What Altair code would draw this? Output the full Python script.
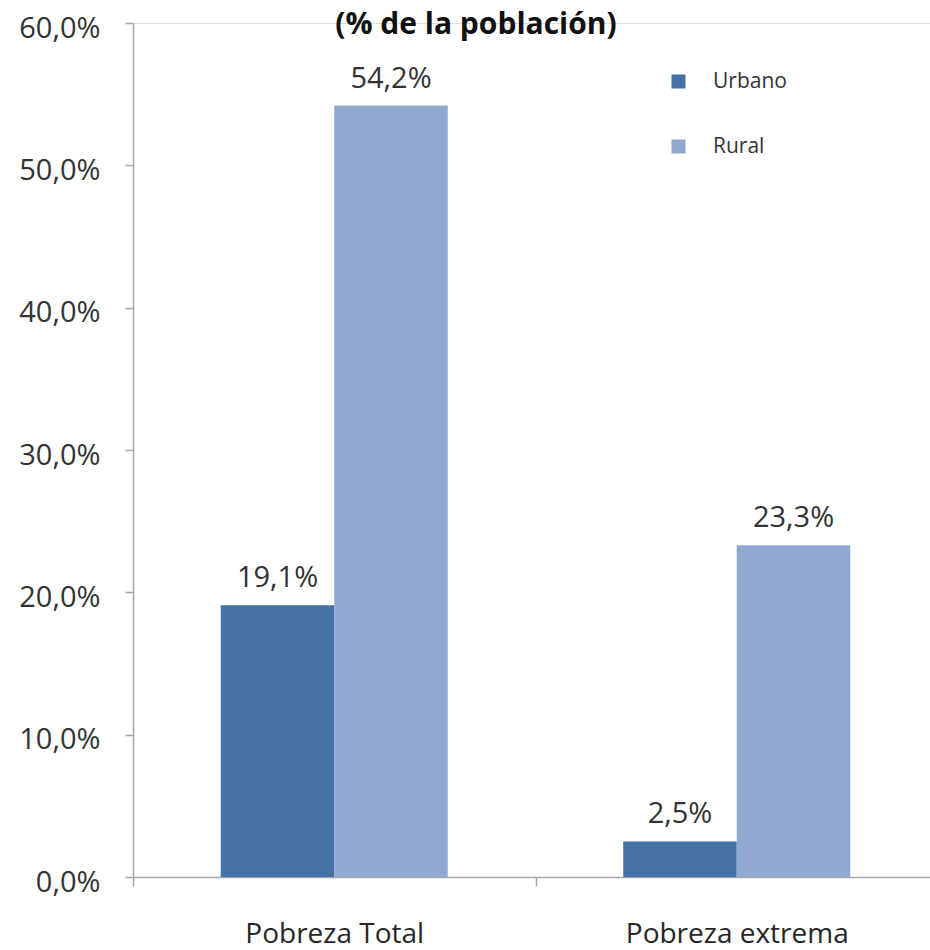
import altair as alt
import pandas as pd

title_text = "(% de la población)"
categories = ["Pobreza Total", "Pobreza extrema"]
zonas = ["Urbano", "Rural"]
urbano = [19.1, 2.5]
rural = [54.2, 23.3]
y_ticks = [0.0, 0.1, 0.2, 0.3, 0.4, 0.5, 0.6]
colors = ["#4472A7", "#91A9D0"]

rows = []
for i, c in enumerate(categories):
    rows.append({"cat": c, "zona": "Urbano", "val": urbano[i] / 100})
    rows.append({"cat": c, "zona": "Rural", "val": rural[i] / 100})
df = pd.DataFrame(rows)
df["label"] = df["val"].map(lambda v: f"{v * 100:.1f}%".replace(".", ","))

FONT = "Open Sans"
AXIS_GRAY = "#A6A6A6"

x_enc = alt.X(
    "cat:N",
    sort=categories,
    title=None,
    scale=alt.Scale(range=[0, 805], paddingInner=0, paddingOuter=0),
    axis=alt.Axis(
        labelAngle=0,
        tickBand="extent",
        domainColor=AXIS_GRAY,
        domainWidth=1.5,
        tickColor=AXIS_GRAY,
        tickWidth=1.5,
        tickSize=9,
        labelPadding=34,
        labelFont=FONT,
        labelFontSize=28,
        labelLimit=0,
        labelColor="#262626",
        grid=False,
    ),
)
xoff_enc = alt.XOffset(
    "zona:N", sort=zonas,
    scale=alt.Scale(domain=zonas, paddingInner=0, paddingOuter=0.773),
)
y_enc = alt.Y(
    "val:Q",
    title=None,
    scale=alt.Scale(domain=[0, 0.6], nice=False),
    axis=alt.Axis(
        values=y_ticks,
        labelExpr="replace(format(datum.value, '.1%'), '.', ',')",
        domainColor=AXIS_GRAY,
        domainWidth=1.5,
        tickColor=AXIS_GRAY,
        tickWidth=1.5,
        tickSize=8,
        labelPadding=25,
        labelFont=FONT,
        labelFontSize=29,
        labelColor="#333333",
        labelOffset=5,
        grid=False,
    ),
)

bars = alt.Chart(df).mark_bar().encode(
    x=x_enc,
    xOffset=xoff_enc,
    y=y_enc,
    color=alt.Color(
        "zona:N",
        sort=zonas,
        scale=alt.Scale(domain=zonas, range=colors),
        legend=alt.Legend(
            orient="none",
            legendX=535,
            legendY=48,
            title=None,
            symbolType="square",
            symbolSize=196,
            symbolStrokeWidth=0,
            labelFont=FONT,
            labelFontSize=21,
            labelColor="#333333",
            labelOffset=24,
            rowPadding=43,
        ),
    ),
)

labels = alt.Chart(df).mark_text(
    dy=-18, baseline="alphabetic", font=FONT, fontSize=29, color="#333333"
).encode(
    x=alt.X("cat:N", sort=categories),
    xOffset=alt.XOffset("zona:N", sort=zonas),
    y=alt.Y("val:Q"),
    text="label:N",
)

title = alt.Chart(pd.DataFrame({"t": [title_text]})).mark_text(
    font=FONT, fontSize=30, fontWeight="bold", color="#111111",
    baseline="alphabetic", align="center",
).encode(
    text="t:N",
    x=alt.value(343),
    y=alt.value(11),
)

chart = (
    alt.layer(bars, labels, title)
    .properties(
        width=797,
        height=854,
        autosize=alt.AutoSizeParams(type="none"),
        padding={"left": 133, "top": 23, "right": 0, "bottom": 73},
    )
    .configure_view(stroke=None)
    .configure(background="white")
)

chart.save("out.html", embed_options={"renderer": "svg", "actions": False})
